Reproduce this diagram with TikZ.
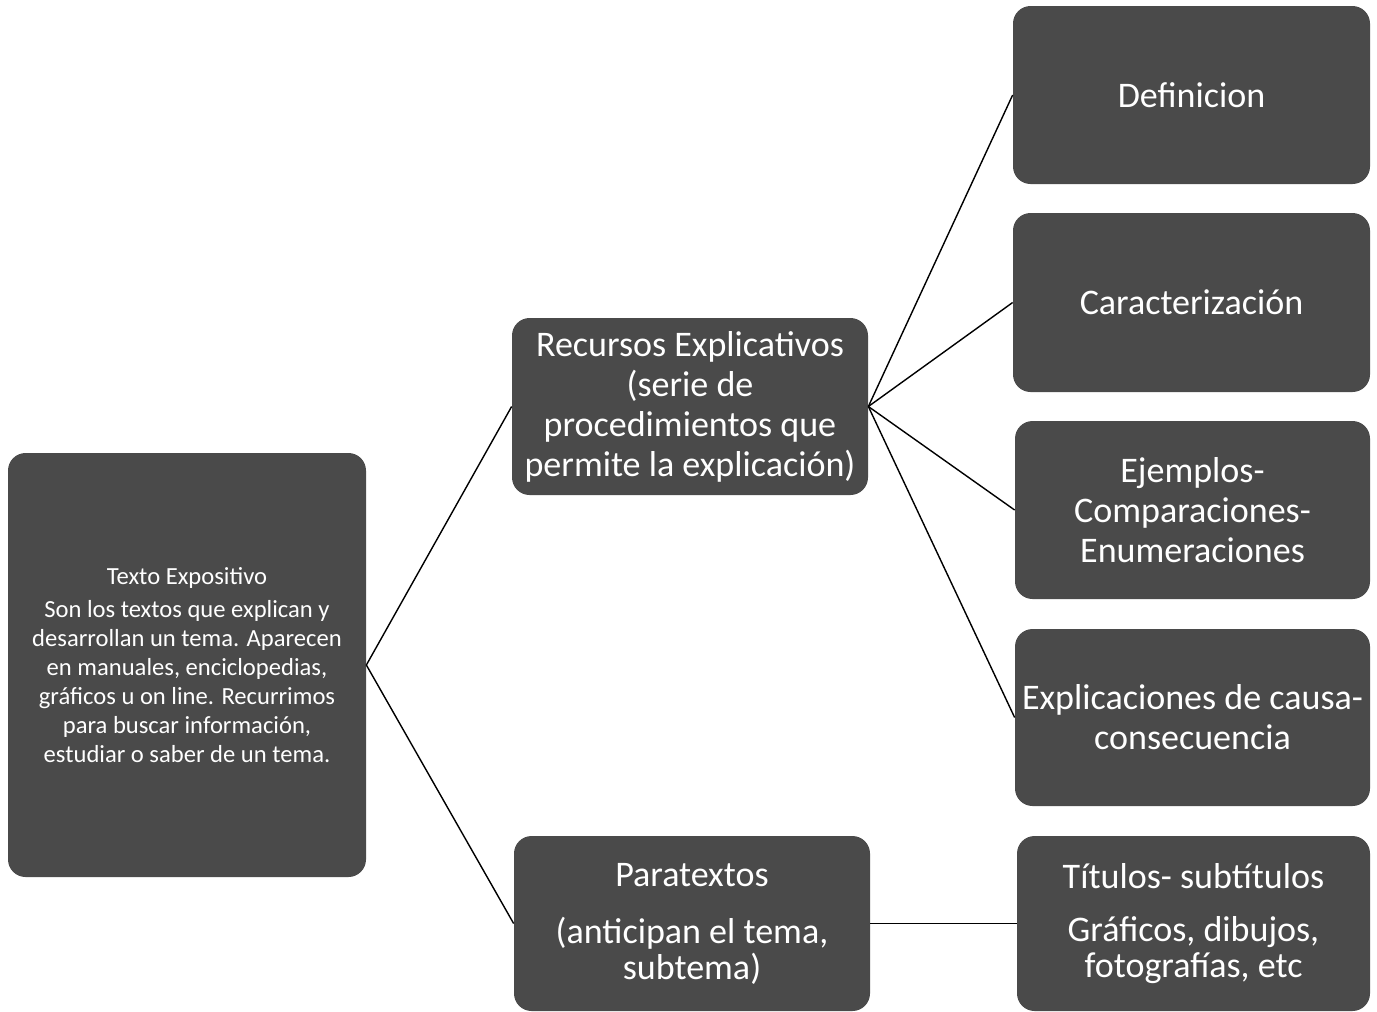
\documentclass[tikz,border=0pt]{standalone}
\usepackage{fontspec}
\setmainfont{Carlito}
\definecolor{boxgray}{RGB}{74,74,74}
\begin{document}
\begin{tikzpicture}
\tikzset{ box/.style={fill=boxgray, text=white, rounded corners=10pt, align=center, inner sep=2pt, font=\fontsize{20.5}{22.8}\selectfont},
          link/.style={thick, black} }

\useasboundingbox (0,0) rectangle (27.54,-20.22);

\node [box, minimum width=7.16cm, minimum height=8.48cm, font=\fontsize{14}{16.5}\selectfont] (texto) at (3.74,-13.30)
  {Texto Expositivo\\[2pt] Son los textos que explican y\\ desarrollan un tema. Aparecen\\ en manuales, enciclopedias,\\ gráficos u on line. Recurrimos\\ para buscar información,\\ estudiar o saber de un tema.};

\node [box, minimum width=7.12cm, minimum height=3.54cm] (recursos) at (13.80,-8.13)
  {Recursos Explicativos\\ (serie de\\ procedimientos que\\ permite la explicación)};
\node [box, minimum width=7.12cm, minimum height=3.50cm, font=\fontsize{20.5}{20.5}\selectfont] (para) at (13.84,-18.47)
  {Paratextos\\[12pt] (anticipan el tema,\\ subtema)};

\node [box, minimum width=7.14cm, minimum height=3.56cm] (defi) at (23.83,-1.90) {Definicion};
\node [box, minimum width=7.14cm, minimum height=3.58cm] (carac) at (23.83,-6.05) {Caracterización};
\node [box, minimum width=7.10cm, minimum height=3.56cm] (ejem) at (23.85,-10.20)
  {Ejemplos-\\ Comparaciones-\\ Enumeraciones};
\node [box, minimum width=7.10cm, minimum height=3.54cm] (expli) at (23.85,-14.35)
  {Explicaciones de causa-\\ consecuencia};
\node [box, minimum width=7.06cm, minimum height=3.50cm, font=\fontsize{20.5}{20.5}\selectfont] (titu) at (23.87,-18.47)
  {Títulos- subtítulos\\[10pt] Gráficos, dibujos,\\ fotografías, etc};

\draw [link] (texto.east) -- (recursos.west);
\draw [link] (texto.east) -- (para.west);

\draw [link] (recursos.east) -- (defi.west);
\draw [link] (recursos.east) -- (carac.west);
\draw [link] (recursos.east) -- (ejem.west);
\draw [link] (recursos.east) -- (expli.west);

\draw [link] (para.east) -- (titu.west);
\end{tikzpicture}
\end{document}
